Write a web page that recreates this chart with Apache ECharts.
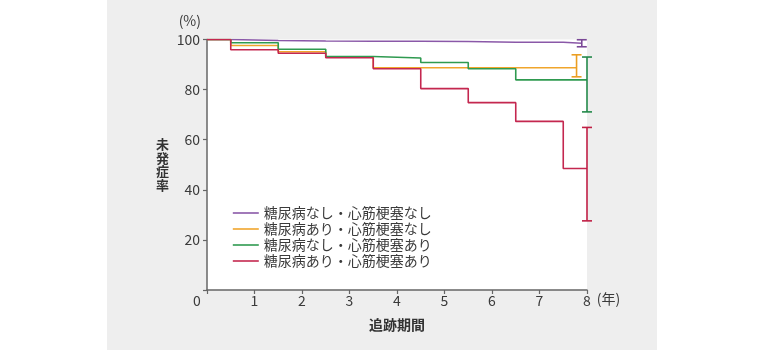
<!DOCTYPE html>
<html>
<head>
<meta charset="utf-8">
<script src="https://cdn.jsdelivr.net/npm/echarts@6/dist/echarts.min.js"></script>
<style>
html,body{margin:0;padding:0;background:#fff;}
#c{width:765px;height:350px;}
</style>
</head>
<body>
<div id="c"></div>
<script>
// ---- data ----
const seriesNames = [
  '糖尿病なし・心筋梗塞なし',
  '糖尿病あり・心筋梗塞なし',
  '糖尿病なし・心筋梗塞あり',
  '糖尿病あり・心筋梗塞あり'
];
const stepTimes = [0, 0.5, 1.5, 2.5, 3.5, 4.5, 5.5, 6.5, 7.5];
const purpleVals = [100, 99.6, 99.4, 99.3, 99.3, 99.2, 98.9, 98.9, 98.5];
const orangeVals = [100, 97.6, 95.1, 92.9, 88.7, 88.7, 88.7, 88.7, 88.7];
const greenVals  = [100, 98.7, 96.1, 93.2, 92.6, 90.8, 88.3, 83.9, 83.9];
const redVals    = [100, 95.9, 94.5, 92.7, 88.3, 80.4, 74.8, 67.3, 48.5];
const endTimes   = [7.89, 7.78, 8, 8];
// error bars: [x, low, high]
const purpleCI = [7.89, 97.1, 99.9];
const orangeCI = [7.78, 85.1, 93.9];
const greenCI  = [8, 71.1, 93.0];
const redCI    = [8, 27.6, 64.9];
const xTicks = [0, 1, 2, 3, 4, 5, 6, 7, 8];
const yTicks = [0, 20, 40, 60, 80, 100];

const colors = ['#8a58a8', '#f0a52c', '#2f9a50', '#c4274f'];
const ciColors = ['#7a4896', '#eb9e22', '#23894a', '#c01f45'];
const allVals = [purpleVals, orangeVals, greenVals, redVals];
const allCI = [purpleCI, orangeCI, greenCI, redCI];

function buildSteps(vals, endT) {
  const d = stepTimes.map((t, i) => [t, vals[i]]);
  d.push([endT, vals[vals.length - 1]]);
  return d;
}

const FONT = '"Noto Sans CJK JP", "Noto Sans", sans-serif';
const TXT = '#3a3a3a';

const lineSeries = seriesNames.map((name, i) => ({
  name: name,
  type: 'line',
  step: 'end',
  symbol: 'none',
  showSymbol: false,
  data: buildSteps(allVals[i], endTimes[i]),
  lineStyle: { color: colors[i], width: 1.6 },
  itemStyle: { color: colors[i] },
  z: 2 + i
}));

const ciSeries = allCI.map((ci, i) => ({
  type: 'custom',
  clip: false,
  silent: true,
  z: 10,
  data: [ci],
  renderItem: function (params, api) {
    const top = api.coord([api.value(0), api.value(2)]);
    const bot = api.coord([api.value(0), api.value(1)]);
    const hw = 5;
    const st = { stroke: ciColors[i], lineWidth: 1.6 };
    return {
      type: 'group',
      children: [
        { type: 'line', shape: { x1: top[0], y1: top[1], x2: bot[0], y2: bot[1] }, style: st },
        { type: 'line', shape: { x1: top[0] - hw, y1: top[1], x2: top[0] + hw, y2: top[1] }, style: st },
        { type: 'line', shape: { x1: bot[0] - hw, y1: bot[1], x2: bot[0] + hw, y2: bot[1] }, style: st }
      ]
    };
  }
}));

const chart = echarts.init(document.getElementById('c'), null, { renderer: 'canvas' });
chart.setOption({
  animation: false,
  textStyle: { fontFamily: FONT },
  graphic: [
    { type: 'rect', z: -10, shape: { x: 107, y: 0, width: 550, height: 350 }, style: { fill: '#eeeeee' } },
    { type: 'text', x: 201, y: 21, style: { text: '(%)', textAlign: 'right', textVerticalAlign: 'middle', font: '14px "Noto Sans CJK JP"', fill: TXT } }
  ],
  grid: {
    left: 207, right: 178, top: 39.5, bottom: 60,
    show: true, backgroundColor: '#ffffff', borderWidth: 0
  },
  legend: {
    data: seriesNames,
    orient: 'vertical',
    left: 232, top: 206, padding: 0,
    itemWidth: 26, itemHeight: 14, itemGap: 2,
    itemStyle: { opacity: 0 },
    lineStyle: { width: 1.6 },
    textStyle: { fontSize: 14, color: TXT, fontFamily: FONT }
  },
  xAxis: [{
    type: 'value', min: 0, max: 8, interval: 1,
    name: '(年)', nameLocation: 'end', nameGap: 9,
    nameTextStyle: { fontSize: 14, color: TXT, verticalAlign: 'top', padding: [2, 0, 0, 0], fontFamily: FONT },
    axisLine: { lineStyle: { color: '#666', width: 1.5 } },
    axisTick: { show: true, length: 4, lineStyle: { color: '#666', width: 1.2 } },
    splitLine: { show: false },
    axisLabel: {
      margin: 4, fontSize: 14, color: TXT, fontFamily: FONT,
      formatter: function (v) { return v === 0 ? '{o|' + xTicks[0] + '}' : String(v); },
      rich: { o: { fontSize: 14, color: TXT, padding: [0, 20, 0, 0], fontFamily: FONT } }
    }
  }, {
    type: 'value', min: 0, max: 8, position: 'bottom', show: true,
    name: '追跡期間', nameLocation: 'middle', nameGap: 28,
    nameTextStyle: { fontSize: 14, fontWeight: 'bold', color: '#333', fontFamily: FONT },
    axisLine: { show: false }, axisTick: { show: false }, axisLabel: { show: false }, splitLine: { show: false }
  }],
  yAxis: {
    type: 'value', min: 0, max: 100, interval: 20,
    name: '未\n発\n症\n率', nameLocation: 'middle', nameRotate: 0, nameGap: 38,
    nameTextStyle: { fontSize: 13, fontWeight: 'bold', color: '#333', lineHeight: 13.5, fontFamily: FONT },
    axisLine: { show: true, lineStyle: { color: '#666', width: 1.5 } },
    axisTick: { show: true, length: 4, lineStyle: { color: '#666', width: 1.2 } },
    splitLine: { show: false },
    axisLabel: {
      margin: 7, fontSize: 14, color: TXT, fontFamily: FONT,
      formatter: function (v) { return v === 0 ? '' : String(v); }
    }
  },
  series: lineSeries.concat(ciSeries)
});
</script>
</body>
</html>
